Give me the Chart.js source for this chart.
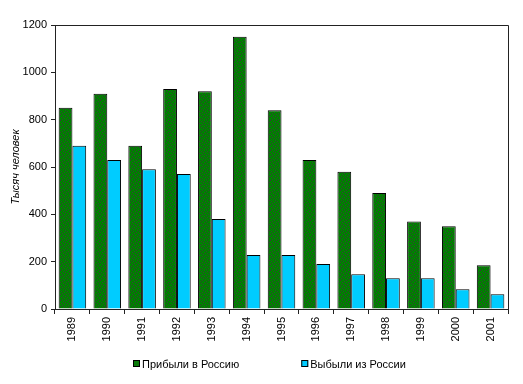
<!DOCTYPE html>
<html>
<head>
<meta charset="utf-8">
<script src="https://cdn.jsdelivr.net/npm/chart.js@4/dist/chart.umd.min.js"></script>
<style>
html,body{margin:0;padding:0;background:#fff;}
#wrap{width:523px;height:384px;position:relative;}
</style>
</head>
<body>
<div id="wrap"><canvas id="c" width="523" height="384"></canvas></div>
<script>
const categories = ['1989','1990','1991','1992','1993','1994','1995','1996','1997','1998','1999','2000','2001'];
const arrived = [850, 910, 690, 930, 920, 1150, 840, 630, 580, 490, 370, 350, 185];
const departed = [690, 630, 590, 570, 380, 228, 228, 190, 147, 130, 130, 83, 62];
const seriesNames = ['Прибыли в Россию', 'Выбыли из России'];
const yTicks = [0, 200, 400, 600, 800, 1000, 1200];
const yTitle = 'Тысяч человек';

const FONT = '"Liberation Sans", Arial, sans-serif';

function makePattern() {
  const p = document.createElement('canvas');
  p.width = 6; p.height = 6;
  const g = p.getContext('2d');
  g.fillStyle = '#008000';
  g.fillRect(0, 0, 6, 6);
  g.fillStyle = '#3a3a3a';
  const dots = [[0,0],[3,1],[1,3],[4,4],[5,2],[2,5]];
  dots.forEach(d => g.fillRect(d[0], d[1], 1, 1));
  return g.createPattern(p, 'repeat');
}
const greenFill = makePattern();

const framePlugin = {
  id: 'frame',
  afterDraw(chart) {
    const a = chart.chartArea, ctx = chart.ctx;
    ctx.save();
    ctx.strokeStyle = '#222';
    ctx.lineWidth = 1;
    ctx.beginPath();
    ctx.moveTo(a.left, a.top + 0.5);
    ctx.lineTo(a.right + 0.5, a.top + 0.5);
    ctx.lineTo(a.right + 0.5, a.bottom);
    ctx.stroke();
    ctx.restore();
  }
};

const legendPlugin = {
  id: 'customLegend',
  afterDraw(chart) {
    const ctx = chart.ctx;
    ctx.save();
    ctx.font = '11px ' + FONT;
    const box = 7, gapText = 2, gapItem = 62;
    const items = chart.data.datasets.map(ds => ({
      text: ds.label, fill: ds.legendColor, w: ctx.measureText(ds.label).width
    }));
    const total = items.reduce((s, it) => s + box + gapText + it.w, 0) + gapItem * (items.length - 1);
    const a = chart.chartArea;
    let x = Math.round((a.left + a.right) / 2 - 12 - total / 2);
    const y = 364;
    items.forEach(it => {
      ctx.fillStyle = it.fill;
      ctx.fillRect(x, y - 4, box, box);
      ctx.strokeStyle = '#000';
      ctx.lineWidth = 1;
      ctx.strokeRect(x + 0.5, y - 3.5, box - 1, box - 1);
      ctx.fillStyle = '#000';
      ctx.textBaseline = 'middle';
      ctx.textAlign = 'left';
      ctx.fillText(it.text, x + box + gapText, y + 1);
      x += box + gapText + it.w + gapItem;
    });
    ctx.restore();
  }
};

new Chart(document.getElementById('c'), {
  type: 'bar',
  data: {
    labels: categories,
    datasets: [
      { label: seriesNames[0], data: arrived, backgroundColor: greenFill, legendColor: '#0a7a0a',
        borderColor: '#000', borderWidth: 1, categoryPercentage: 0.79, barPercentage: 1.0 },
      { label: seriesNames[1], data: departed, backgroundColor: '#00CCFF', legendColor: '#00CCFF',
        borderColor: '#000', borderWidth: 1, categoryPercentage: 0.79, barPercentage: 1.0 }
    ]
  },
  options: {
    responsive: false,
    animation: false,
    devicePixelRatio: 1,
    layout: { padding: { top: 25, right: 15, left: 0, bottom: 40 } },
    plugins: {
      legend: { display: false },
      tooltip: { enabled: false },
      title: { display: false }
    },
    scales: {
      x: {
        offset: true,
        grid: { display: true, drawOnChartArea: false, drawTicks: true, tickLength: 5, color: '#222', offset: true },
        border: { display: true, color: '#222', width: 1 },
        ticks: { color: '#000', font: { family: FONT, size: 11 }, minRotation: 90, maxRotation: 90, padding: 3, autoSkip: false },
        afterFit(scale) { scale.height = 35; }
      },
      y: {
        min: 0, max: 1200,
        afterBuildTicks(scale) { scale.ticks = yTicks.map(v => ({ value: v })); },
        grid: { display: true, drawOnChartArea: false, drawTicks: true, tickLength: 4, color: '#222' },
        border: { display: true, color: '#222', width: 1 },
        ticks: { color: '#000', font: { family: FONT, size: 11 }, padding: 4, callback: v => String(v) },
        title: { display: true, text: yTitle, color: '#000', font: { family: FONT, size: 11, style: 'italic' }, padding: { top: 9, bottom: 0 } },
        afterFit(scale) { scale.width = 55; }
      }
    }
  },
  plugins: [framePlugin, legendPlugin]
});
</script>
</body>
</html>
